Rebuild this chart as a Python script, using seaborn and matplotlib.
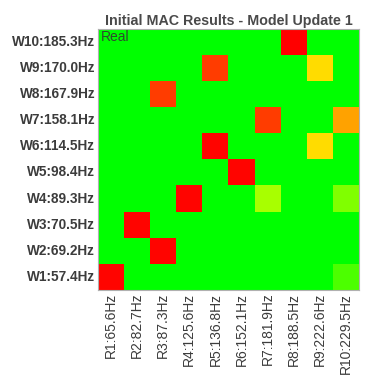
import matplotlib
matplotlib.use("Agg")
import matplotlib.pyplot as plt
from matplotlib.colors import LinearSegmentedColormap
import numpy as np
import pandas as pd
import seaborn as sns

sns.set_style("white")
plt.rcParams['font.family'] = ['Liberation Sans', 'DejaVu Sans']

# analytical modes (columns) and measured modes (rows)
real_labels = ["R1:65.6Hz", "R2:82.7Hz", "R3:87.3Hz", "R4:125.6Hz", "R5:136.8Hz",
               "R6:152.1Hz", "R7:181.9Hz", "R8:188.5Hz", "R9:222.6Hz", "R10:229.5Hz"]
model_labels = ["W10:185.3Hz", "W9:170.0Hz", "W8:167.9Hz", "W7:158.1Hz", "W6:114.5Hz",
                "W5:98.4Hz", "W4:89.3Hz", "W3:70.5Hz", "W2:69.2Hz", "W1:57.4Hz"]

# MAC values, rows W10 -> W1, columns R1 -> R10
mac_w10 = [0, 0, 0, 0, 0, 0, 0, 1.00, 0, 0]
mac_w9 = [0, 0, 0, 0, 0.88, 0, 0, 0, 0.57, 0]
mac_w8 = [0, 0, 0.88, 0, 0, 0, 0, 0, 0, 0]
mac_w7 = [0, 0, 0, 0, 0, 0, 0.88, 0, 0, 0.68]
mac_w6 = [0, 0, 0, 0, 0.99, 0, 0, 0, 0.57, 0]
mac_w5 = [0, 0, 0, 0, 0, 0.99, 0, 0, 0, 0]
mac_w4 = [0, 0, 0, 0.99, 0, 0, 0.33, 0, 0, 0.25]
mac_w3 = [0, 0.99, 0, 0, 0, 0, 0, 0, 0, 0]
mac_w2 = [0, 0, 0.99, 0, 0, 0, 0, 0, 0, 0]
mac_w1 = [0.99, 0, 0, 0, 0, 0, 0, 0, 0, 0.15]

mac = pd.DataFrame([mac_w10, mac_w9, mac_w8, mac_w7, mac_w6,
                    mac_w5, mac_w4, mac_w3, mac_w2, mac_w1],
                   index=model_labels, columns=real_labels)

cmap = LinearSegmentedColormap.from_list("gyr", ["#00ff00", "#ffff00", "#ff0000"])

fig = plt.figure(figsize=(3.77, 3.84), dpi=100)
ax = fig.add_axes([0.26, 0.245, 0.692, 0.68])
sns.heatmap(mac, cmap=cmap, vmin=0, vmax=1, cbar=False, ax=ax, square=False)

txt_color = "#3c3c3c"
ax.set_title("Initial MAC Results - Model Update 1", fontsize=10.3, fontweight="bold",
             color="#4a4a4a", pad=3)
ax.set_xticklabels(real_labels, rotation=90, fontsize=10, color=txt_color)
ax.set_yticklabels(model_labels, rotation=0, fontsize=9.8, fontweight="bold", color=txt_color)
ax.tick_params(length=0, pad=2)
ax.text(0.01, 0.995, "Real", fontsize=10, color="#2e4a2e", va="top", ha="left",
        transform=ax.transAxes)
for s in ax.spines.values():
    s.set_visible(True)
    s.set_color("#b0b0b0")
    s.set_linewidth(0.8)

fig.savefig("out.png", dpi=100)
